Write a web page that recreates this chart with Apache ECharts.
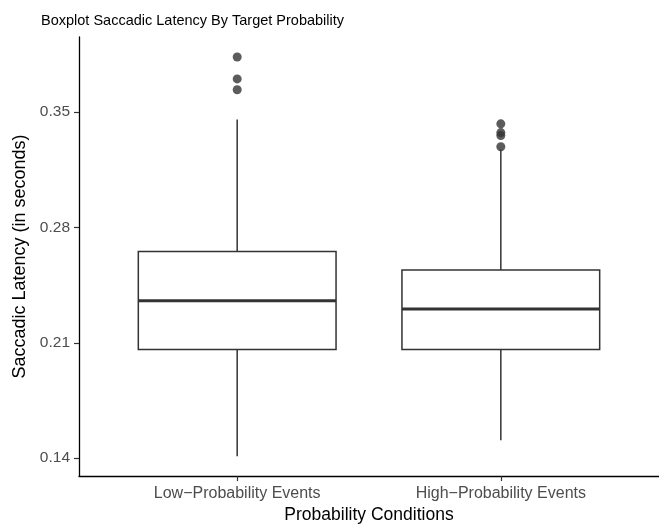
<!DOCTYPE html>
<html>
<head>
<meta charset="utf-8">
<script src="https://cdn.jsdelivr.net/npm/echarts@6/dist/echarts.min.js"></script>
<style>
  html, body { margin: 0; padding: 0; background: #fff; }
  #chart { width: 659px; height: 529px; }
</style>
</head>
<body>
<div id="chart"></div>
<script>
// Probability conditions on the x axis
const categories = ['Low\u2212Probability Events', 'High\u2212Probability Events'];
// Five-number summaries: [lower whisker, Q1, median, Q3, upper whisker]
const lowStats  = [0.1412, 0.2059, 0.2355, 0.2654, 0.3455];
const highStats = [0.1509, 0.2059, 0.2306, 0.2542, 0.3273];
// Outlying latencies per condition
const lowOutliers  = [0.3835, 0.3702, 0.3636];
const highOutliers = [0.3429, 0.3376, 0.3358, 0.3290];
// Y axis tick values
const yTicks = [0.14, 0.21, 0.28, 0.35];

const FONT = '"Liberation Sans", Arial, sans-serif';
const INK = '#333333';

const boxData = [lowStats, highStats].map((s, i) => [i + 1].concat(s));
const outlierData = []
  .concat(lowOutliers.map(v => [1, v]))
  .concat(highOutliers.map(v => [2, v]));

// Box, whiskers (no caps) and a heavy median bar for each condition
function renderBox(params, api) {
  const x = api.value(0);
  const pLo = api.coord([x, api.value(1)]);
  const pQ1 = api.coord([x, api.value(2)]);
  const pMed = api.coord([x, api.value(3)]);
  const pQ3 = api.coord([x, api.value(4)]);
  const pHi = api.coord([x, api.value(5)]);
  const halfW = api.size([0.75, 0])[0] / 2;
  const cx = pMed[0];
  const stroke = { stroke: INK, lineWidth: 1.5, fill: null };
  return {
    type: 'group',
    children: [
      { type: 'line', shape: { x1: cx, y1: pHi[1], x2: cx, y2: pQ3[1] }, style: stroke },
      { type: 'line', shape: { x1: cx, y1: pQ1[1], x2: cx, y2: pLo[1] }, style: stroke },
      { type: 'rect', shape: { x: cx - halfW, y: pQ3[1], width: halfW * 2, height: pQ1[1] - pQ3[1] },
        style: { stroke: INK, lineWidth: 1.5, fill: '#ffffff' } },
      { type: 'line', shape: { x1: cx - halfW, y1: pMed[1], x2: cx + halfW, y2: pMed[1] },
        style: { stroke: INK, lineWidth: 3 } }
    ]
  };
}

const chart = echarts.init(document.getElementById('chart'), null, { renderer: 'canvas' });
chart.setOption({
  animation: false,
  backgroundColor: '#ffffff',
  title: {
    text: 'Boxplot Saccadic Latency By Target Probability',
    left: 36, top: 8,
    textStyle: { fontFamily: FONT, fontSize: 14.5, fontWeight: 'normal', color: '#000' }
  },
  grid: { left: 79, top: 37, width: 589, height: 441, containLabel: false },
  xAxis: {
    type: 'value', min: 0.4, max: 2.6,
    name: 'Probability Conditions', nameLocation: 'middle', nameGap: 27,
    nameTextStyle: { fontFamily: FONT, fontSize: 17.5, color: '#000' },
    splitLine: { show: false },
    axisLine: { lineStyle: { color: '#000', width: 1.3 } },
    axisTick: { customValues: [1, 2], length: 5, lineStyle: { color: INK, width: 1.2 } },
    axisLabel: {
      customValues: [1, 2], margin: 9,
      fontFamily: FONT, fontSize: 16, color: '#4d4d4d',
      formatter: v => categories[Math.round(v) - 1]
    }
  },
  yAxis: {
    type: 'value', min: 0.12912, max: 0.39562,
    name: 'Saccadic Latency (in seconds)', nameLocation: 'middle', nameGap: 49,
    nameTextStyle: { fontFamily: FONT, fontSize: 18, color: '#000' },
    splitLine: { show: false },
    axisLine: { show: true, lineStyle: { color: '#000', width: 1.3 } },
    axisTick: { show: true, customValues: yTicks, length: 5, lineStyle: { color: INK, width: 1.2 } },
    axisLabel: {
      customValues: yTicks, margin: 9,
      fontFamily: FONT, fontSize: 15.5, color: '#4d4d4d',
      formatter: v => v.toFixed(2)
    }
  },
  series: [
    {
      type: 'custom',
      renderItem: renderBox,
      encode: { x: 0, y: [1, 2, 3, 4, 5] },
      data: boxData,
      z: 2
    },
    {
      type: 'scatter',
      data: outlierData,
      symbol: 'circle', symbolSize: 9,
      itemStyle: { color: INK },
      z: 3
    }
  ]
});
</script>
</body>
</html>
